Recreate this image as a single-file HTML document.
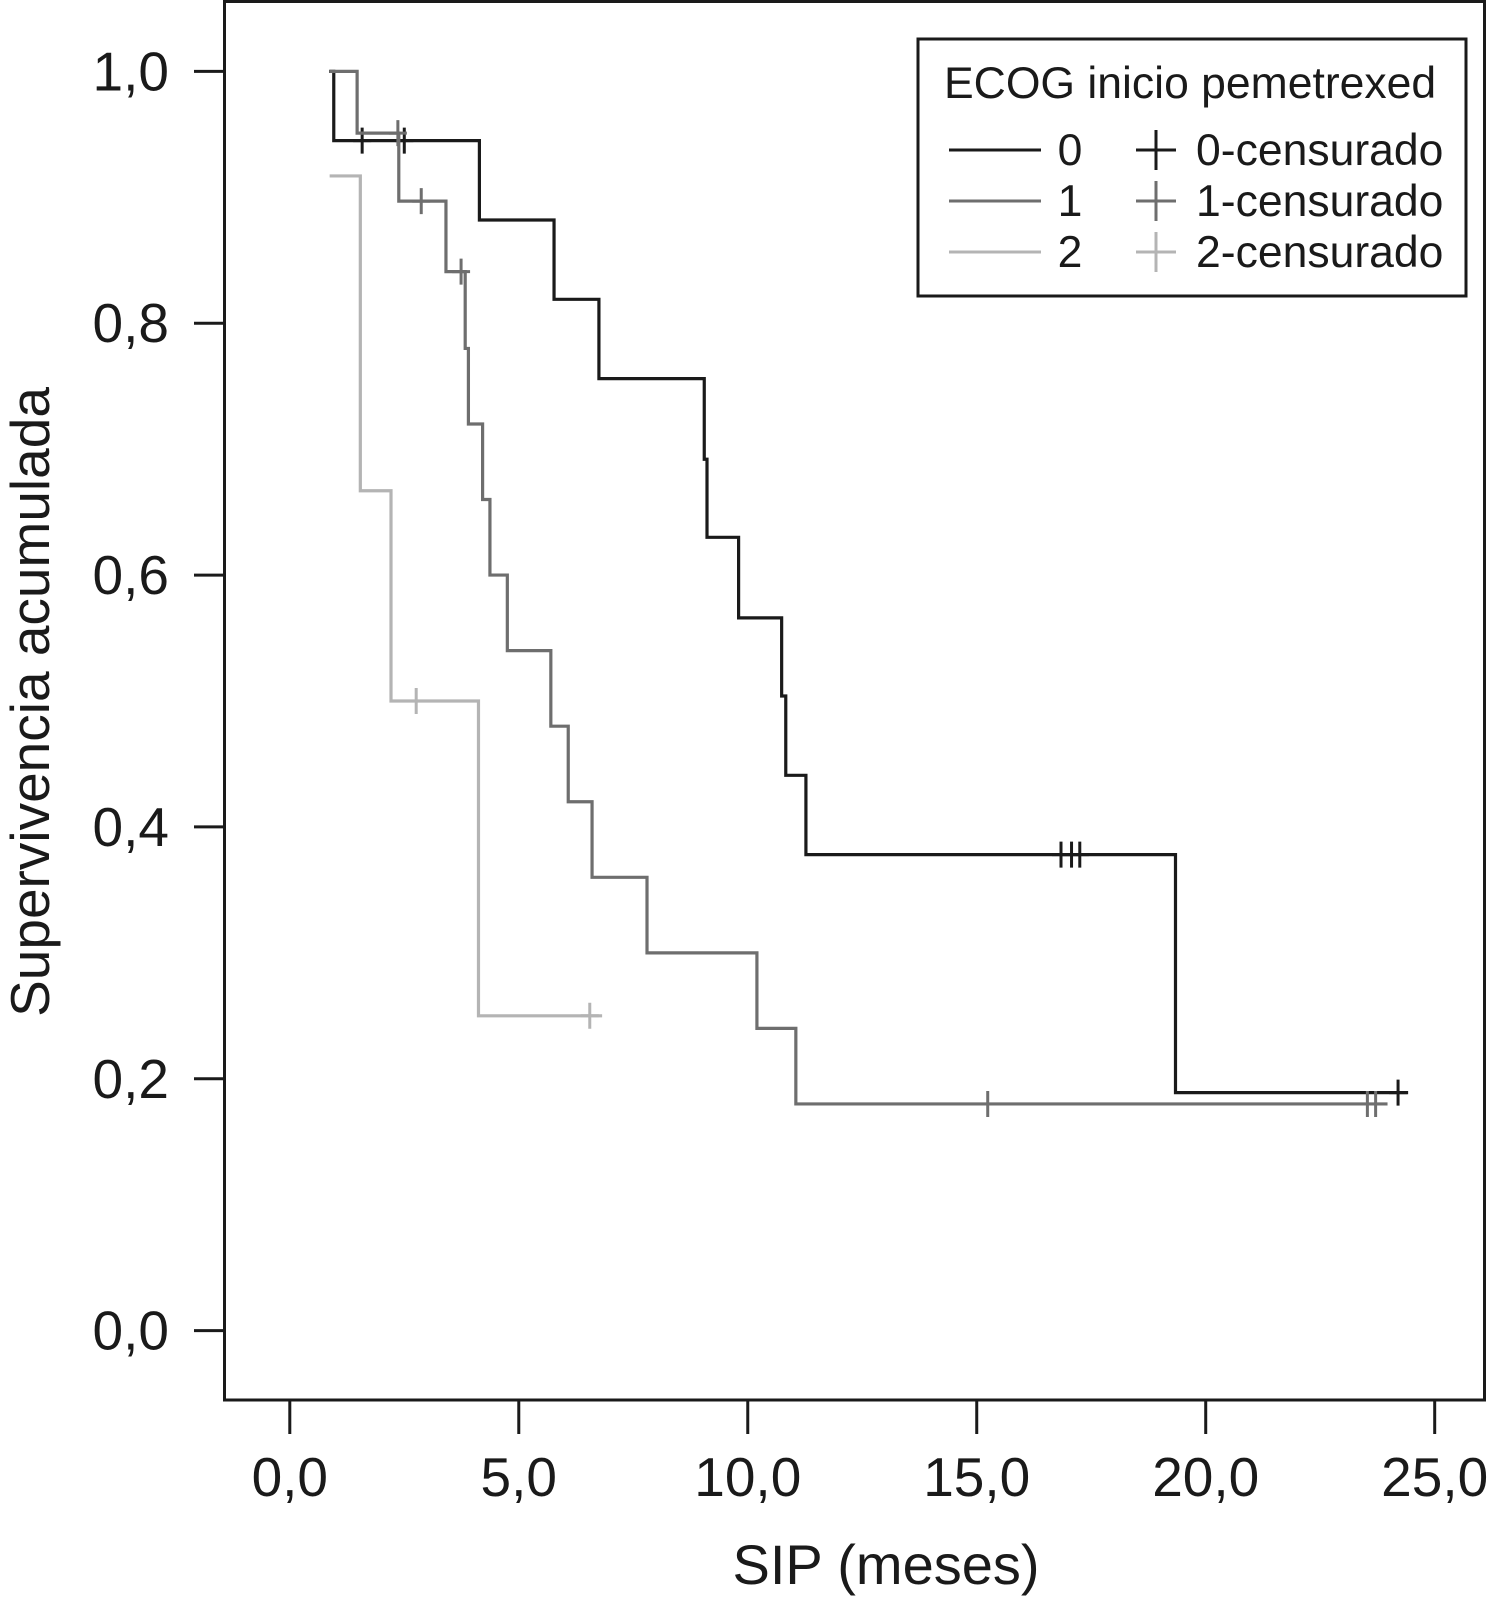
<!DOCTYPE html>
<html><head><meta charset="utf-8"><style>
html,body{margin:0;padding:0;background:#fff;}
svg{display:block;font-family:"Liberation Sans",sans-serif;}
</style></head><body>
<svg id="chart" width="1500" height="1600" viewBox="0 0 1500 1600" xmlns="http://www.w3.org/2000/svg">
<rect x="224.5" y="1.5" width="1260" height="1398.5" fill="none" stroke="#1a1a1a" stroke-width="3"/>
<g id="axes"></g>
<g id="series"></g>
<text x="886" y="1584" font-size="56" text-anchor="middle" fill="#1a1a1a">SIP (meses)</text>
<text transform="translate(49,702) rotate(-90)" font-size="55" text-anchor="middle" fill="#1a1a1a">Supervivencia acumulada</text>
<g>
<rect x="918" y="39" width="548" height="257" fill="#fff" stroke="#1a1a1a" stroke-width="3"/>
<text x="944" y="98" font-size="44.5" fill="#1a1a1a">ECOG inicio pemetrexed</text>
<g><line x1="949" y1="150" x2="1041" y2="150" stroke="#1a1a1a" stroke-width="3"/><text x="1070" y="165" font-size="44.5" text-anchor="middle" fill="#1a1a1a">0</text><path d="M1136 150h40M1156 130v40" stroke="#1a1a1a" stroke-width="3"/><text x="1196" y="165" font-size="44.5" fill="#1a1a1a">0-censurado</text></g>
<g><line x1="949" y1="201" x2="1041" y2="201" stroke="#6e6e6e" stroke-width="3"/><text x="1070" y="216" font-size="44.5" text-anchor="middle" fill="#1a1a1a">1</text><path d="M1136 201h40M1156 181v40" stroke="#6e6e6e" stroke-width="3"/><text x="1196" y="216" font-size="44.5" fill="#1a1a1a">1-censurado</text></g>
<g><line x1="949" y1="252" x2="1041" y2="252" stroke="#b4b4b4" stroke-width="3"/><text x="1070" y="267" font-size="44.5" text-anchor="middle" fill="#1a1a1a">2</text><path d="M1136 252h40M1156 232v40" stroke="#b4b4b4" stroke-width="3"/><text x="1196" y="267" font-size="44.5" fill="#1a1a1a">2-censurado</text></g>
</g>
</svg>
<script>
const xTicks = [0, 5, 10, 15, 20, 25];
const xTickLabels = ["0,0", "5,0", "10,0", "15,0", "20,0", "25,0"];
const yTicks = [0, 0.2, 0.4, 0.6, 0.8, 1.0];
const yTickLabels = ["0,0", "0,2", "0,4", "0,6", "0,8", "1,0"];
const seriesNames = ["0", "1", "2"];
const times0 = [0.86, 0.96, 4.14, 5.77, 6.75, 9.05, 9.11, 9.80, 10.74, 10.83, 11.27, 19.34];
const surv0 = [1.0, 0.945, 0.882, 0.819, 0.756, 0.692, 0.630, 0.566, 0.504, 0.441, 0.378, 0.189];
const end0 = 24.42;
const cens0T = [1.58, 2.50, 16.84, 17.07, 17.25, 24.2];
const cens0S = [0.945, 0.945, 0.378, 0.378, 0.378, 0.189];
const times1 = [0.87, 1.47, 2.38, 3.41, 3.83, 3.90, 4.21, 4.37, 4.75, 5.70, 6.08, 6.60, 7.80, 10.20, 11.05];
const surv1 = [1.0, 0.951, 0.897, 0.841, 0.780, 0.720, 0.660, 0.600, 0.540, 0.480, 0.420, 0.360, 0.300, 0.240, 0.180];
const end1 = 23.97;
const cens1T = [2.36, 2.87, 3.74, 15.24, 23.53, 23.71];
const cens1S = [0.951, 0.897, 0.841, 0.18, 0.18, 0.18];
const times2 = [0.87, 1.54, 2.21, 4.12];
const surv2 = [0.917, 0.667, 0.5, 0.25];
const end2 = 6.82;
const cens2T = [2.76, 6.55];
const cens2S = [0.5, 0.25];

const NS = "http://www.w3.org/2000/svg";
const xs = v => 289.8 + v * (1434.7 - 289.8) / 25;
const ys = v => 1330.6 - v * (1330.6 - 71.4);
const axes = document.getElementById('axes');
const ser = document.getElementById('series');
function mk(tag, attrs, parent){const e=document.createElementNS(NS,tag);for(const k in attrs)e.setAttribute(k,attrs[k]);parent.appendChild(e);return e;}

xTicks.forEach((t,i)=>{
  const l = mk('line',{x1:xs(t),x2:xs(t),y1:1400,y2:1434,stroke:'#1a1a1a','stroke-width':3},axes);
  
  
  const tx = mk('text',{x:xs(t),y:1496,'font-size':55,'text-anchor':'middle',fill:'#1a1a1a'},axes);
  tx.textContent = xTickLabels[i];
  
  
});
yTicks.forEach((t,i)=>{
  const l = mk('line',{x1:194,x2:224.5,y1:ys(t),y2:ys(t),stroke:'#1a1a1a','stroke-width':3},axes);
  
  
  const tx = mk('text',{x:169,y:ys(t)+19,'font-size':55,'text-anchor':'end',fill:'#1a1a1a'},axes);
  tx.textContent = yTickLabels[i];
  
  
});

function drawSeries(idx, times, surv, end, cT, cS, color){
  let d = 'M'+xs(times[0])+' '+ys(surv[0]);
  for(let i=1;i<times.length;i++){ d += ' H'+xs(times[i])+' V'+ys(surv[i]); }
  d += ' H'+xs(end);
  const p = mk('path',{d:d,fill:'none',stroke:color,'stroke-width':3.2},ser);
  
  
  cT.forEach((t,i)=>{
    const x=xs(t), y=ys(cS[i]);
    const c = mk('path',{d:'M'+(x-9)+' '+y+'h18M'+x+' '+(y-13)+'v26',stroke:color,'stroke-width':3,fill:'none'},ser);
    
    
  });
}
drawSeries(2, times2, surv2, end2, cens2T, cens2S, '#b4b4b4');
drawSeries(0, times0, surv0, end0, cens0T, cens0S, '#1a1a1a');
drawSeries(1, times1, surv1, end1, cens1T, cens1S, '#6e6e6e');
</script>
</body></html>
